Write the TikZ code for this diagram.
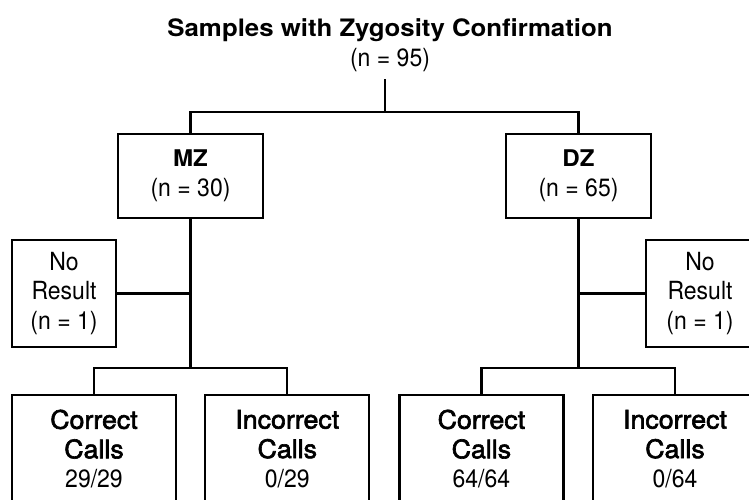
\documentclass[tikz,border=0pt]{standalone}
\usepackage{fontspec}
\setmainfont[FakeStretch=0.92]{TeX Gyre Heros}
\newfontfamily\medfont[FakeBold=2.4,FakeStretch=1.05]{TeX Gyre Heros}
\newfontfamily\titlefont[FakeStretch=1.075]{TeX Gyre Heros Bold}
\newfontfamily\headfont[FakeStretch=1.05]{TeX Gyre Heros Bold}
\newcommand{\medtext}[1]{{\medfont\fontsize{25.5}{29.5}\selectfont #1}}
\begin{document}
\begin{tikzpicture}[x=1pt,y=-1pt,
  box/.style={draw=black,line width=2.3pt,align=center,inner sep=0pt,
    font=\fontsize{25}{29.5}\selectfont},
  mid/.style={box,minimum width=145pt,minimum height=84pt},
  side/.style={box,minimum width=104pt,minimum height=107pt},
  leaf/.style={box,minimum width=164pt,minimum height=108pt},
  conn/.style={line width=2.3pt,line cap=rect}]
\useasboundingbox (0,0) rectangle (749,500);
\clip (0,0) rectangle (749,500);
\node[align=center,inner sep=0pt,font=\fontsize{25}{29.5}\selectfont] (title) at (390,45)
  {{\titlefont\fontsize{24}{29.5}\selectfont Samples with Zygosity Confirmation}\\(n = 95)};
\coordinate (top) at (385,80);
\coordinate (split) at (385,112);
\node[mid] (mz) at (190.5,176) {{\headfont\fontsize{23}{29.5}\selectfont MZ}\\(n = 30)};
\node[mid] (dz) at (578.5,176) {{\headfont\fontsize{23}{29.5}\selectfont DZ}\\(n = 65)};
\node[side] (nrl) at (64,293.5) {No\\Result\\(n = 1)};
\node[side,minimum width=108pt] (nrr) at (700,293.5) {No\\Result\\(n = 1)};
\coordinate (mzj) at (190.5,368);
\coordinate (dzj) at (578.5,368);
\node[leaf] (cc1) at (94,449) {\medtext{Correct}\\\medtext{Calls}\\29/29};
\node[leaf] (ic1) at (287.3,449) {\medtext{Incorrect}\\\medtext{Calls}\\0/29};
\node[leaf] (cc2) at (481.4,449) {\medtext{Correct}\\\medtext{Calls}\\64/64};
\node[leaf] (ic2) at (675,449) {\medtext{Incorrect}\\\medtext{Calls}\\0/64};
\draw[conn] (top) -- (split);
\draw[conn] (mz.north) |- (split) -| (dz.north);
\draw[conn] (mz.south) -- (mzj);
\draw[conn] (dz.south) -- (dzj);
\draw[conn] (nrl.east) -- (mz.south |- nrl.east);
\draw[conn] (nrr.west) -- (dz.south |- nrr.west);
\draw[conn] (cc1.north) |- (mzj) -| (ic1.north);
\draw[conn] (cc2.north) |- (dzj) -| (ic2.north);
\end{tikzpicture}
\end{document}
